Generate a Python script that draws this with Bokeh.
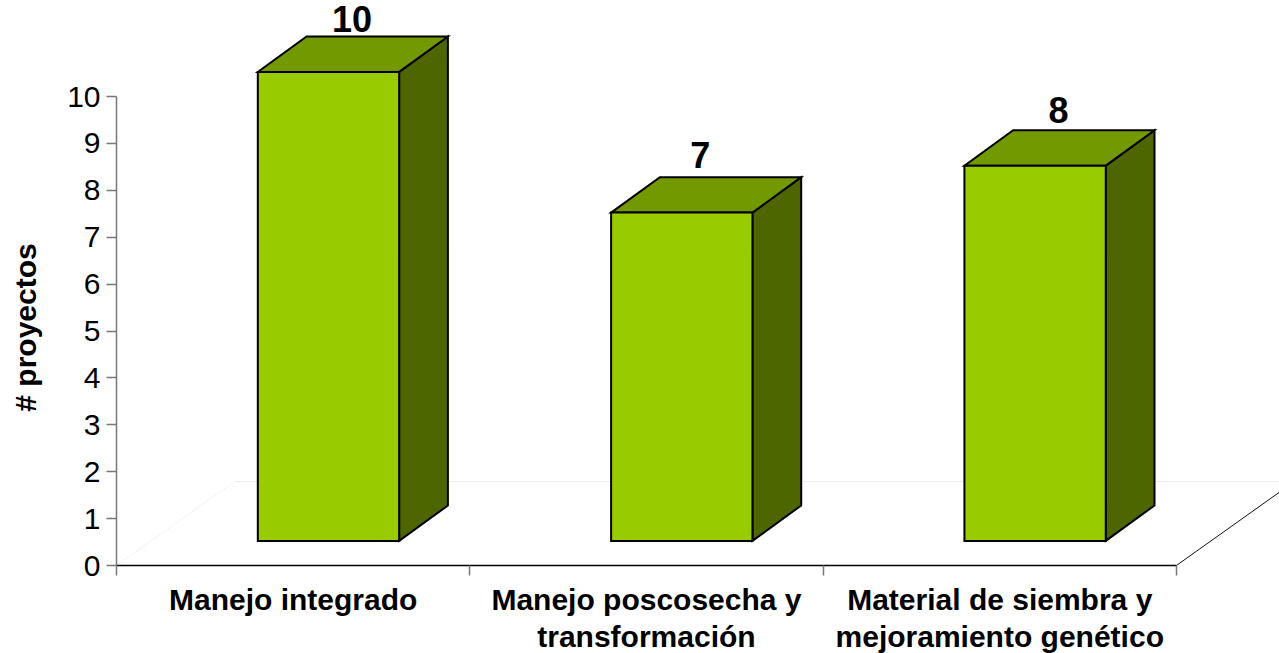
import math
from bokeh.plotting import figure
from bokeh.models import FixedTicker, ColumnDataSource, Range1d, LinearAxis
from bokeh.core.properties import value
from bokeh.embed import file_html
from bokeh.resources import INLINE

categories = [["Manejo integrado"],
              ["Manejo poscosecha y", "transformación"],
              ["Material de siembra y", "mejoramiento genético"]]
proyectos = [10, 7, 8]
y_ticks = [0, 1, 2, 3, 4, 5, 6, 7, 8, 9, 10]
y_title = "# proyectos"

FONT = "Liberation Sans"
W, H = 1279, 653
LEFT, AXIS_Y = 116, 565                         # pixel geometry inside the figure
PX_X, PX_Y = 353.3, 46.9
x_start, x_end = -LEFT / PX_X, (W - LEFT) / PX_X
y_start, y_end = -(H - AXIS_Y) / PX_Y, AXIS_Y / PX_Y

BAR_W = 0.40
BASE = 0.525
DX, DY = 0.138, 0.755                           # bar depth
FX, FY = 0.334, 1.79                            # floor depth

p = figure(width=W, height=H, output_backend="svg", toolbar_location=None,
           x_range=Range1d(x_start, x_end), y_range=Range1d(y_start, y_end),
           x_axis_type=None, y_axis_type=None,
           min_border=0, outline_line_color=None,
           background_fill_color="white", border_fill_color="white")
p.grid.visible = False

# floor
p.line([0, FX], [0, FY], line_color="#ececec", line_width=1, line_dash="2 1")
p.line([FX, x_end], [FY, FY], line_color="#ececec", line_width=1)
p.line([3, x_end], [0, (x_end - 3) * FY / FX], line_color="#111111", line_width=1)

centers = [i + 0.6 for i in range(len(proyectos))]
front_x, front_y, top_x, top_y, side_x, side_y = [], [], [], [], [], []
for c, v in zip(centers, proyectos):
    l, r = c - BAR_W / 2, c + BAR_W / 2
    t = BASE + v
    front_x.append([l, r, r, l]); front_y.append([BASE, BASE, t, t])
    top_x.append([l, r, r + DX, l + DX]); top_y.append([t, t, t + DY, t + DY])
    side_x.append([r, r + DX, r + DX, r]); side_y.append([BASE, BASE + DY, t + DY, t])

for xs, ys, col in ((side_x, side_y, "#4D6600"), (top_x, top_y, "#739900"), (front_x, front_y, "#99CC00")):
    p.patches(xs, ys, fill_color=col, line_color="black", line_width=2, line_join="miter")

nudge = [0, -5 / PX_X, 0]
src = ColumnDataSource(dict(x=[c + 0.133 / 2 + n for c, n in zip(centers, nudge)],
                            y=[v * 0.964 + 2.009 for v in proyectos],
                            t=[str(v) for v in proyectos]))
p.text(x="x", y="y", text="t", source=src, text_font=value(FONT), text_font_style="bold",
       text_font_size="36px", text_align="center", text_baseline="alphabetic", text_color="black")

# axes
ya = LinearAxis(fixed_location=0)
ya.ticker = FixedTicker(ticks=y_ticks)
ya.bounds = (0, 10)
ya.axis_line_color = "#777777"
ya.axis_line_width = 1.5
ya.major_tick_line_color = "#777777"
ya.major_tick_line_width = 1.5
ya.major_tick_out = 10
ya.major_tick_in = 0
ya.minor_tick_line_color = None
ya.major_label_text_font = FONT
ya.major_label_text_font_size = "30px"
ya.major_label_text_color = "black"
ya.major_label_standoff = 6
p.add_layout(ya, "left")

p.text(x=[-91 / PX_X], y=[238 / PX_Y], text=[y_title], angle=math.pi / 2,
       text_font=value(FONT), text_font_style="bold", text_font_size="30px",
       text_align="center", text_baseline="middle", text_color="black")

xa = LinearAxis(fixed_location=0)
xa.ticker = FixedTicker(ticks=[], minor_ticks=list(range(len(categories) + 1)))
xa.bounds = (0, 3)
xa.axis_line_color = "black"
xa.axis_line_width = 1.5
xa.major_tick_line_color = None
xa.major_tick_out = 0
xa.major_tick_in = 0
xa.minor_tick_line_color = "#777777"
xa.minor_tick_line_width = 1.5
xa.minor_tick_out = 10
xa.minor_tick_in = 0
p.add_layout(xa, "below")

# category labels, one text per line under each slot
lx, ly, lt = [], [], []
for i, lines in enumerate(categories):
    for j, line in enumerate(lines):
        lx.append(i + 0.5)
        ly.append(-(34 + 37 * j) / PX_Y)
        lt.append(line)
p.text(x=lx, y=ly, text=lt, text_font=value(FONT), text_font_style="bold", text_font_size="30px",
       text_align="center", text_baseline="alphabetic", text_color="black")

open("out.html", "w").write(file_html(p, INLINE))
